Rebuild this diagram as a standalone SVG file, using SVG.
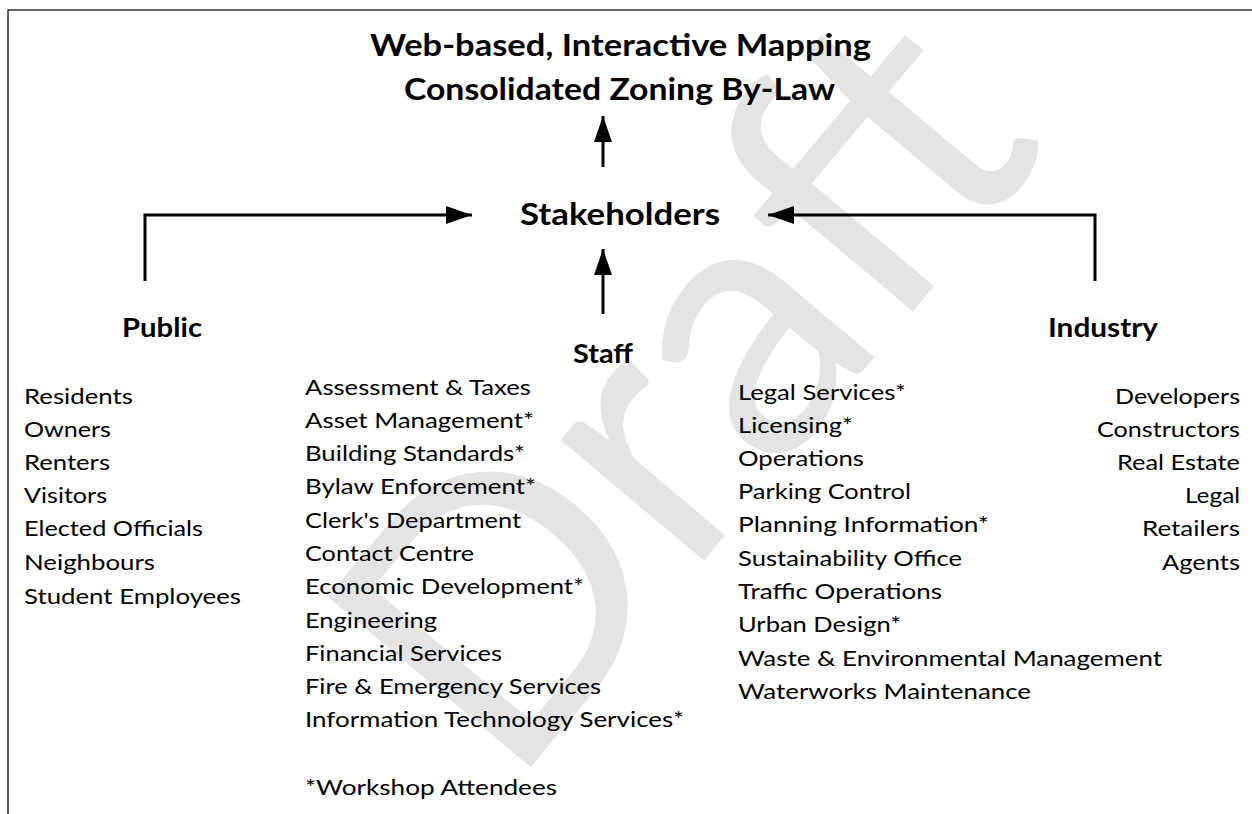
<svg xmlns="http://www.w3.org/2000/svg" width="1252" height="814" viewBox="0 0 1252 814">
<style>
  .h { font-family: Lato, "Open Sans", "Liberation Sans", sans-serif; font-weight: bold; fill: #000; }
  .t { font-family: Lato, "Open Sans", "Liberation Sans", sans-serif; font-size: 21px; fill: #000; }
  .wm { font-family: Lato, "Open Sans", "Liberation Sans", sans-serif; font-size: 370px; fill: #e4e4e4; }
  .c { stroke: #000; stroke-width: 3; fill: none; }
</style>
<defs>
  <marker id="ah" markerUnits="userSpaceOnUse" markerWidth="26" markerHeight="18" refX="26" refY="9" orient="auto">
    <path d="M0,0 L26,9 L0,18 z" fill="#000"/>
  </marker>
</defs>
<rect width="1252" height="814" fill="#fff"/>
<g id="watermark">
  <text class="wm" x="0" y="0" text-anchor="middle" transform="translate(780,470) rotate(-50)">Draft</text>
</g>
<g id="frame">
  <path d="M8,814 L8,10 L1252,10" stroke="#333" stroke-width="1.5" fill="none"/>
</g>
<g id="connectors">
  <line class="c" x1="603" y1="167" x2="603" y2="116" marker-end="url(#ah)"/>
  <polyline class="c" points="145,281 145,215 472,215" marker-end="url(#ah)"/>
  <polyline class="c" points="1095,281 1095,215 768,215" marker-end="url(#ah)"/>
  <line class="c" x1="603" y1="314" x2="603" y2="249" marker-end="url(#ah)"/>
</g>
<g id="title">
  <text class="h" font-size="30" x="370" y="56" textLength="501" lengthAdjust="spacingAndGlyphs">Web-based, Interactive Mapping</text>
  <text class="h" font-size="30" x="404" y="100" textLength="431" lengthAdjust="spacingAndGlyphs">Consolidated Zoning By-Law</text>
</g>
<g id="stakeholders">
  <text class="h" font-size="30" x="520" y="225" textLength="200" lengthAdjust="spacingAndGlyphs">Stakeholders</text>
</g>
<g id="public">
  <text class="h" font-size="27" x="122" y="337" textLength="80" lengthAdjust="spacingAndGlyphs">Public</text>
  <text class="t" x="24" y="404" textLength="109" lengthAdjust="spacingAndGlyphs">Residents</text>
  <text class="t" x="24" y="437" textLength="87" lengthAdjust="spacingAndGlyphs">Owners</text>
  <text class="t" x="24" y="470" textLength="86" lengthAdjust="spacingAndGlyphs">Renters</text>
  <text class="t" x="24" y="503" textLength="83" lengthAdjust="spacingAndGlyphs">Visitors</text>
  <text class="t" x="24" y="536" textLength="179" lengthAdjust="spacingAndGlyphs">Elected Officials</text>
  <text class="t" x="24" y="570" textLength="131" lengthAdjust="spacingAndGlyphs">Neighbours</text>
  <text class="t" x="24" y="604" textLength="217" lengthAdjust="spacingAndGlyphs">Student Employees</text>
</g>
<g id="staff">
  <text class="h" font-size="27" x="573" y="363" textLength="60" lengthAdjust="spacingAndGlyphs">Staff</text>
  <text class="t" x="305" y="395" textLength="226" lengthAdjust="spacingAndGlyphs">Assessment &amp; Taxes</text>
  <text class="t" x="305" y="428" textLength="229" lengthAdjust="spacingAndGlyphs">Asset Management*</text>
  <text class="t" x="305" y="461" textLength="220" lengthAdjust="spacingAndGlyphs">Building Standards*</text>
  <text class="t" x="305" y="494" textLength="231" lengthAdjust="spacingAndGlyphs">Bylaw Enforcement*</text>
  <text class="t" x="305" y="528" textLength="216" lengthAdjust="spacingAndGlyphs">Clerk's Department</text>
  <text class="t" x="305" y="561" textLength="169" lengthAdjust="spacingAndGlyphs">Contact Centre</text>
  <text class="t" x="305" y="594" textLength="279" lengthAdjust="spacingAndGlyphs">Economic Development*</text>
  <text class="t" x="305" y="628" textLength="132" lengthAdjust="spacingAndGlyphs">Engineering</text>
  <text class="t" x="305" y="661" textLength="197" lengthAdjust="spacingAndGlyphs">Financial Services</text>
  <text class="t" x="305" y="694" textLength="296" lengthAdjust="spacingAndGlyphs">Fire &amp; Emergency Services</text>
  <text class="t" x="305" y="727" textLength="379" lengthAdjust="spacingAndGlyphs">Information Technology Services*</text>
  <text class="t" x="305" y="795" textLength="252" lengthAdjust="spacingAndGlyphs">*Workshop Attendees</text>
  <text class="t" x="738" y="400" textLength="168" lengthAdjust="spacingAndGlyphs">Legal Services*</text>
  <text class="t" x="738" y="433" textLength="115" lengthAdjust="spacingAndGlyphs">Licensing*</text>
  <text class="t" x="738" y="466" textLength="126" lengthAdjust="spacingAndGlyphs">Operations</text>
  <text class="t" x="738" y="499" textLength="173" lengthAdjust="spacingAndGlyphs">Parking Control</text>
  <text class="t" x="738" y="532" textLength="251" lengthAdjust="spacingAndGlyphs">Planning Information*</text>
  <text class="t" x="738" y="566" textLength="224" lengthAdjust="spacingAndGlyphs">Sustainability Office</text>
  <text class="t" x="738" y="599" textLength="204" lengthAdjust="spacingAndGlyphs">Traffic Operations</text>
  <text class="t" x="738" y="632" textLength="163" lengthAdjust="spacingAndGlyphs">Urban Design*</text>
  <text class="t" x="738" y="666" textLength="424" lengthAdjust="spacingAndGlyphs">Waste &amp; Environmental Management</text>
  <text class="t" x="738" y="699" textLength="293" lengthAdjust="spacingAndGlyphs">Waterworks Maintenance</text>
</g>
<g id="industry">
  <text class="h" font-size="27" x="1048" y="337" textLength="110" lengthAdjust="spacingAndGlyphs">Industry</text>
  <text class="t" x="1115" y="404" textLength="125" lengthAdjust="spacingAndGlyphs">Developers</text>
  <text class="t" x="1097" y="437" textLength="143" lengthAdjust="spacingAndGlyphs">Constructors</text>
  <text class="t" x="1117" y="470" textLength="123" lengthAdjust="spacingAndGlyphs">Real Estate</text>
  <text class="t" x="1185" y="503" textLength="55" lengthAdjust="spacingAndGlyphs">Legal</text>
  <text class="t" x="1142" y="536" textLength="98" lengthAdjust="spacingAndGlyphs">Retailers</text>
  <text class="t" x="1162" y="570" textLength="78" lengthAdjust="spacingAndGlyphs">Agents</text>
</g>
</svg>
